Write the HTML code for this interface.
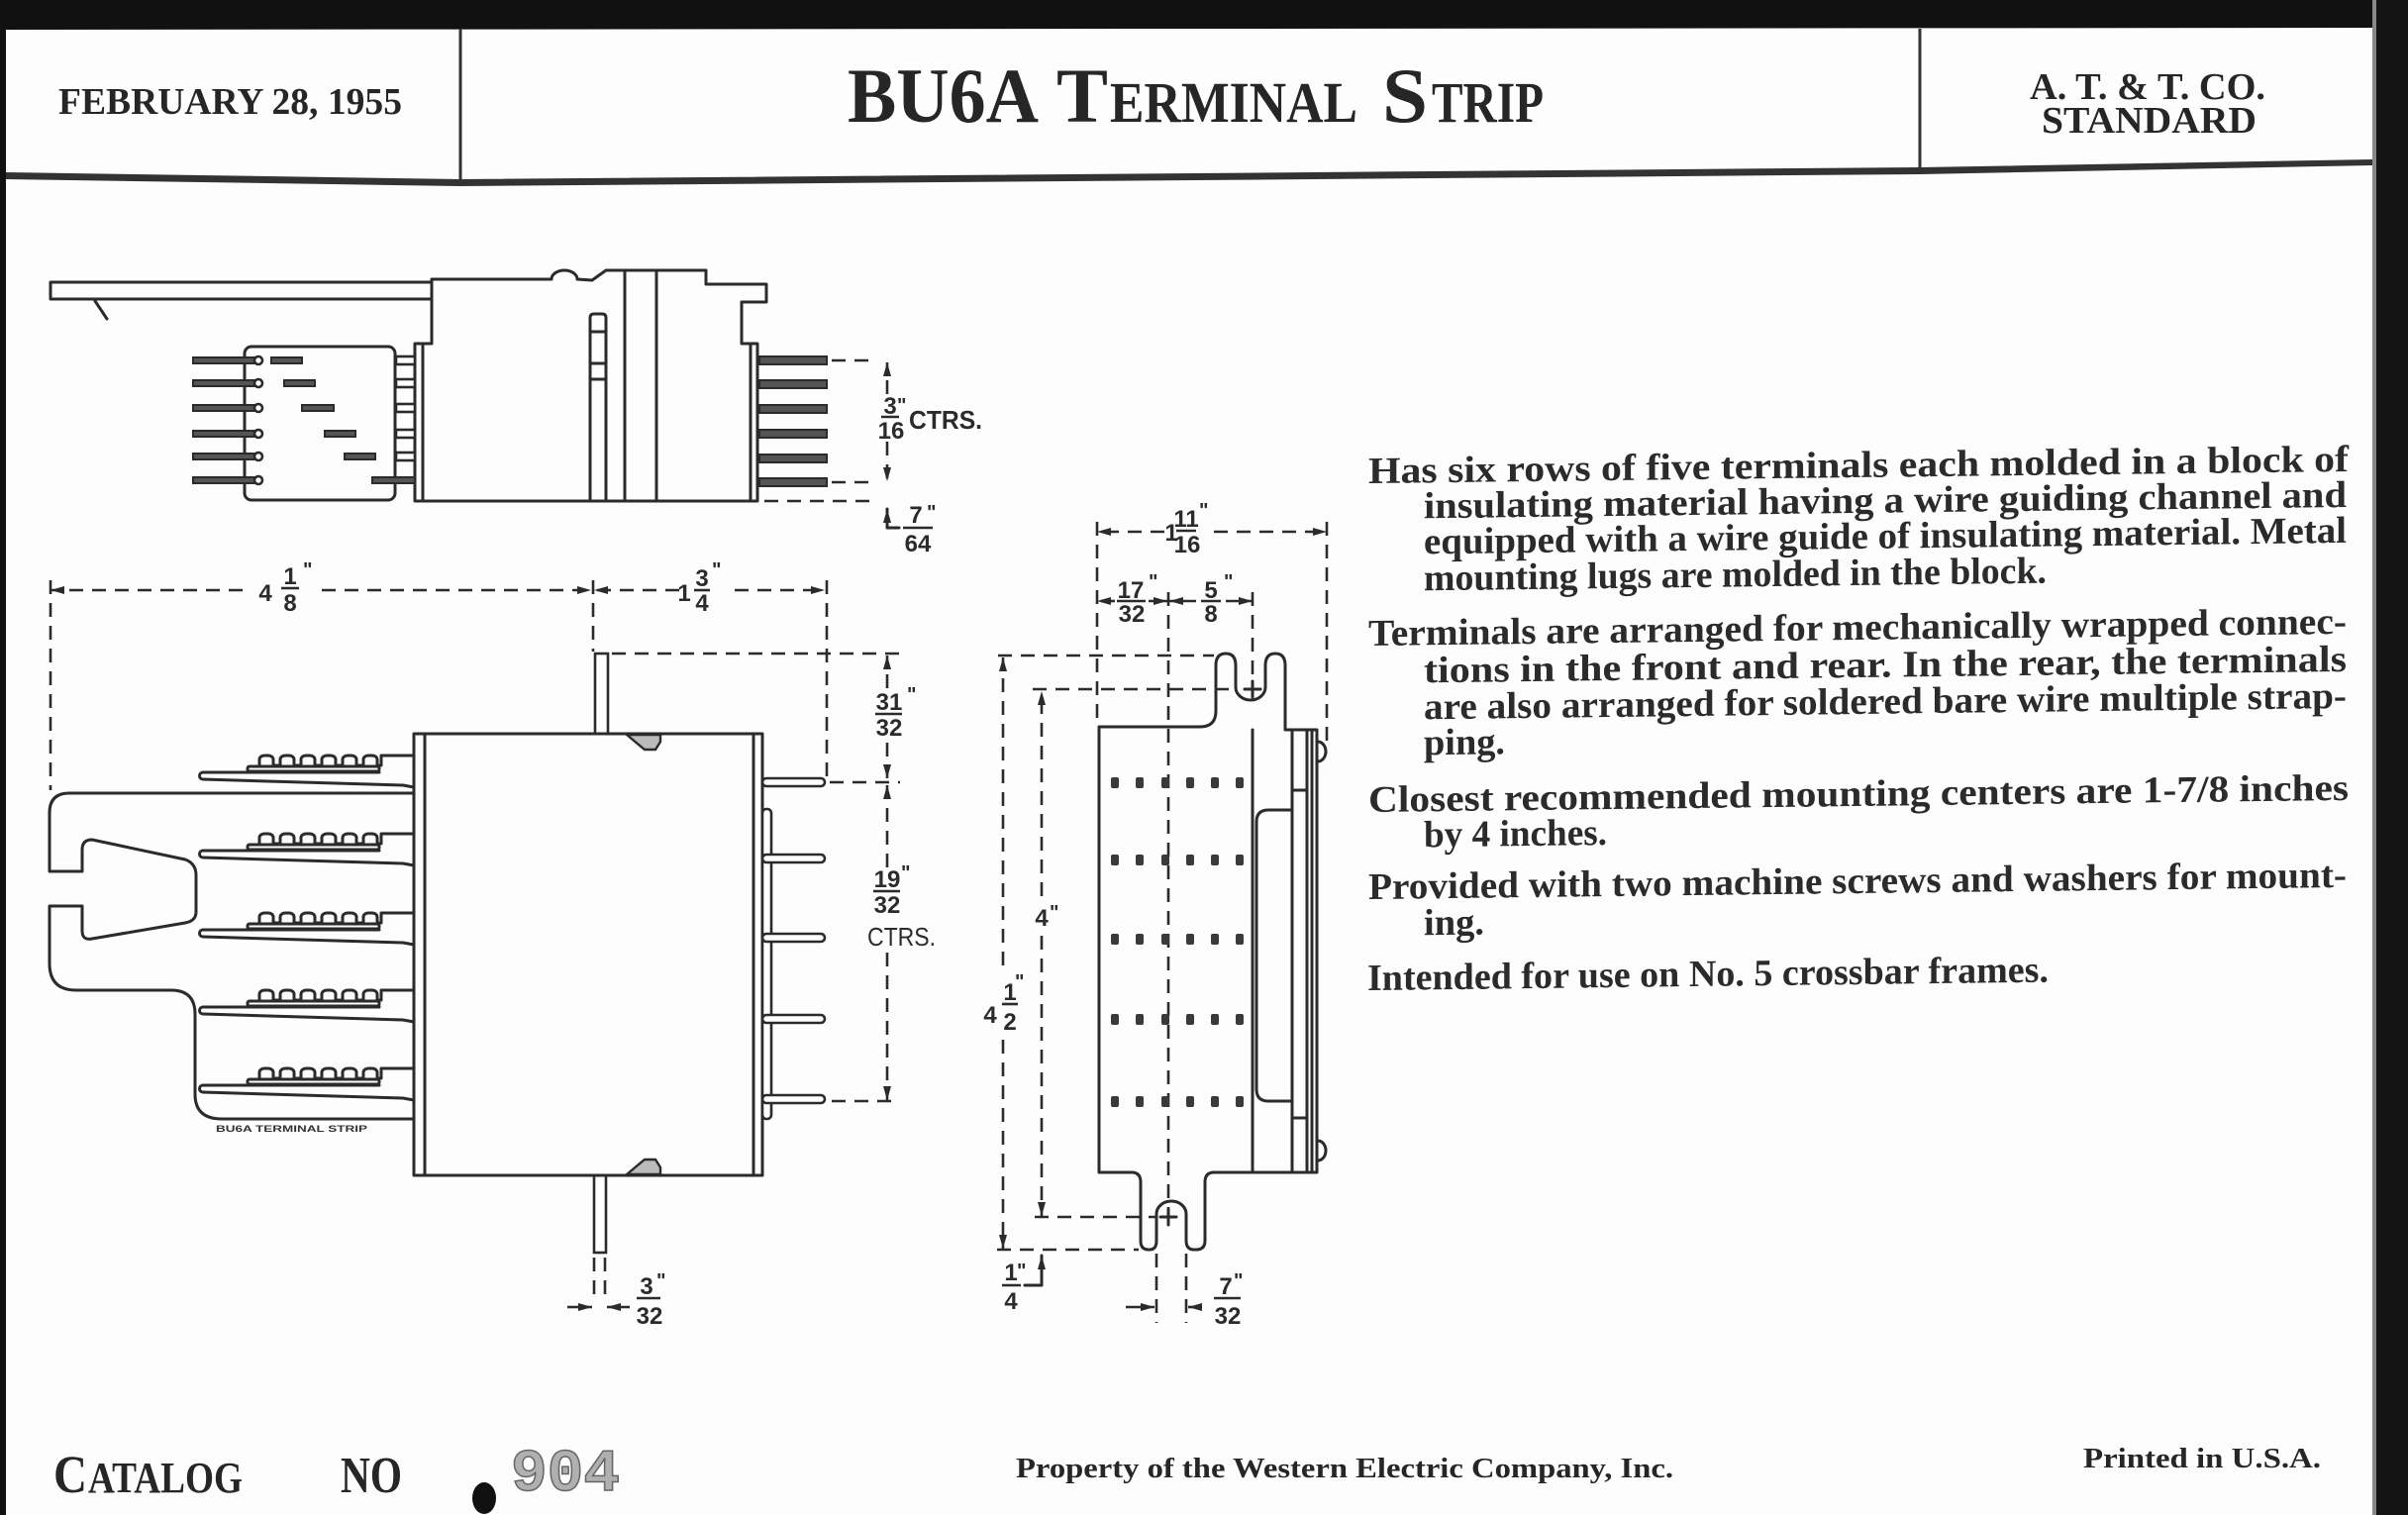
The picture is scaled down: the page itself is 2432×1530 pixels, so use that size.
<!DOCTYPE html>
<html><head><meta charset="utf-8"><style>
html,body{margin:0;padding:0;background:#fff;}
svg{display:block;}
.s{fill:none;stroke:#2b2b2b;stroke-width:3;stroke-linejoin:round;stroke-linecap:round}
.w{fill:#fff;stroke:#2b2b2b;stroke-width:2.6}
.k{fill:#555;stroke:#2b2b2b;stroke-width:2}
.d{fill:none;stroke:#2b2b2b;stroke-width:2.6;stroke-dasharray:14 9}
.dm{fill:none;stroke:#2b2b2b;stroke-width:2.6;stroke-dasharray:14 9}
.b{stroke:#2b2b2b;stroke-width:2.6}
.t{font-family:"Liberation Sans",sans-serif;font-size:24px;fill:#2b2b2b;text-anchor:middle;font-weight:bold}
.q{font-family:"Liberation Sans",sans-serif;font-size:20px;fill:#2b2b2b;font-weight:bold}
.sf{font-family:"Liberation Serif",serif;font-weight:bold;fill:#262626}
.p{font-family:"Liberation Serif",serif;font-weight:bold;font-size:38px;fill:#2b2b2b}
</style></head><body>
<svg width="2432" height="1530" viewBox="0 0 2432 1530" xmlns="http://www.w3.org/2000/svg">
<defs>
<marker id="a" viewBox="0 0 14 8" refX="14" refY="4" markerWidth="14" markerHeight="8" orient="auto-start-reverse" markerUnits="userSpaceOnUse"><path d="M0,0 L14,4 L0,8 z" fill="#2b2b2b"/></marker>
</defs>
<rect width="2432" height="1530" fill="#fdfdfd"/>
<!-- scan frame -->
<polygon points="0,0 2432,0 2432,28 0,30" fill="#111"/>
<rect x="0" y="0" width="6" height="1530" fill="#111"/>
<rect x="2396" y="0" width="6" height="1530" fill="#888"/>
<rect x="2400" y="0" width="32" height="1530" fill="#141414"/>

<!-- header -->
<polygon points="6,174 465,181 1939,169 2396,161 2396,167 1939,176 465,188 6,181" fill="#333"/>
<line x1="465" y1="29" x2="465" y2="184" stroke="#333" stroke-width="3"/>
<line x1="1939" y1="29" x2="1939" y2="173" stroke="#333" stroke-width="3"/>
<text class="sf" x="59" y="115" font-size="38" textLength="347" lengthAdjust="spacingAndGlyphs">FEBRUARY 28, 1955</text>
<text class="sf" x="856" y="123" font-size="78" textLength="193" lengthAdjust="spacingAndGlyphs">BU6A</text>
<text class="sf" x="1067" y="123" font-size="78" textLength="52" lengthAdjust="spacingAndGlyphs">T</text>
<text class="sf" x="1121" y="123" font-size="58" textLength="250" lengthAdjust="spacingAndGlyphs">ERMINAL</text>
<text class="sf" x="1396" y="123" font-size="78" textLength="46" lengthAdjust="spacingAndGlyphs">S</text>
<text class="sf" x="1446" y="123" font-size="58" textLength="113" lengthAdjust="spacingAndGlyphs">TRIP</text>
<text class="sf" x="2050" y="100" font-size="38" textLength="238" lengthAdjust="spacingAndGlyphs">A. T. &amp; T. CO.</text>
<text class="sf" x="2062" y="134" font-size="38" textLength="217" lengthAdjust="spacingAndGlyphs">STANDARD</text>

<!-- ===== TOP ELEVATION VIEW ===== -->
<path class="s" d="M436,285 H51 V302 H436"/>
<path class="s" d="M96,304 L108,322"/>
<path class="s" d="M436,282 H557 A13,9 0 0 1 583,282 L598,283 L612,273 H713 V287 H774 V305 H749 V347 H765 V506 H419 V347 H436 Z"/>
<path class="s" d="M427,347 V506 M758,347 V506 M631,273 V506 M663,273 V506"/>
<path class="s" d="M596,506 V321 Q596,317 600,317 H608 Q612,317 612,321 V506 M596,335 H612 M596,367 H612 M596,383 H612"/>
<rect class="s" x="247" y="350" width="152" height="155" rx="7"/>
<g>
<rect class="k" x="195" y="361" width="64" height="6"/><circle class="w" cx="261" cy="364" r="4"/>
<rect class="k" x="195" y="384" width="64" height="6"/><circle class="w" cx="261" cy="387" r="4"/>
<rect class="k" x="195" y="409" width="64" height="6"/><circle class="w" cx="261" cy="412" r="4"/>
<rect class="k" x="195" y="435" width="64" height="6"/><circle class="w" cx="261" cy="438" r="4"/>
<rect class="k" x="195" y="458" width="64" height="6"/><circle class="w" cx="261" cy="461" r="4"/>
<rect class="k" x="195" y="482" width="64" height="6"/><circle class="w" cx="261" cy="485" r="4"/>
<rect class="k" x="274" y="361" width="31" height="6"/>
<rect class="k" x="287" y="384" width="31" height="6"/>
<rect class="k" x="305" y="409" width="32" height="6"/>
<rect class="k" x="328" y="435" width="31" height="6"/>
<rect class="k" x="348" y="458" width="31" height="6"/>
<rect class="k" x="376" y="482" width="43" height="6"/>
<rect class="w" x="400" y="360" width="19" height="8"/>
<rect class="w" x="400" y="383" width="19" height="8"/>
<rect class="w" x="400" y="408" width="19" height="8"/>
<rect class="w" x="400" y="434" width="19" height="8"/>
<rect class="w" x="400" y="457" width="19" height="8"/>
<rect class="k" x="767" y="360" width="68" height="8"/>
<rect class="k" x="767" y="384" width="68" height="8"/>
<rect class="k" x="767" y="409" width="68" height="8"/>
<rect class="k" x="767" y="434" width="68" height="8"/>
<rect class="k" x="767" y="459" width="68" height="8"/>
<rect class="k" x="767" y="483" width="68" height="8"/>
</g>
<!-- dims top view -->
<path class="d" d="M840,364 H886 M840,487 H886 M772,506 H886"/>
<line class="dm" x1="896" y1="398" x2="896" y2="366" marker-end="url(#a)"/>
<line class="dm" x1="896" y1="446" x2="896" y2="486" marker-end="url(#a)"/>
<text class="t" x="899" y="418">3</text><line class="b" x1="890" y1="421" x2="908" y2="421"/><text class="t" x="900" y="443">16</text>
<text class="q" x="906" y="416">"</text>
<text x="918" y="433" font-family="Liberation Sans,sans-serif" font-size="26" font-weight="bold" fill="#2b2b2b" textLength="74" lengthAdjust="spacingAndGlyphs">CTRS.</text>
<path class="s" d="M908,533 H896 V514" stroke-width="2.6" marker-end="url(#a)"/>
<text class="t" x="925" y="528">7</text><line class="b" x1="912" y1="533" x2="942" y2="533"/><text class="t" x="927" y="557">64</text>
<text class="q" x="936" y="524">"</text>

<!-- ===== PLAN VIEW ===== -->
<line class="dm" x1="245" y1="596" x2="51" y2="596" marker-end="url(#a)"/>
<line class="dm" x1="325" y1="596" x2="597" y2="596" marker-end="url(#a)"/>
<line class="dm" x1="686" y1="596" x2="600" y2="596" marker-end="url(#a)"/>
<line class="dm" x1="742" y1="596" x2="833" y2="596" marker-end="url(#a)"/>
<path class="d" d="M51,586 V798 M599,586 V658 M835,586 V787 M618,660 H909 M838,790 H909 M840,1112 H909"/>
<text class="t" x="268" y="607">4</text>
<text class="t" x="293" y="590">1</text><line class="b" x1="284" y1="594" x2="302" y2="594"/><text class="t" x="293" y="617">8</text>
<text class="q" x="306" y="582">"</text>
<text class="t" x="691" y="607">1</text>
<text class="t" x="709" y="592">3</text><line class="b" x1="701" y1="596" x2="717" y2="596"/><text class="t" x="709" y="617">4</text>
<text class="q" x="719" y="582">"</text>

<line class="dm" x1="896" y1="695" x2="896" y2="662" marker-end="url(#a)"/>
<line class="dm" x1="896" y1="750" x2="896" y2="786" marker-end="url(#a)"/>
<text class="t" x="898" y="717">31</text><line class="b" x1="884" y1="721" x2="911" y2="721"/><text class="t" x="898" y="743">32</text>
<text class="q" x="916" y="708">"</text>
<line class="dm" x1="896" y1="876" x2="896" y2="793" marker-end="url(#a)"/>
<line class="dm" x1="896" y1="962" x2="896" y2="1111" marker-end="url(#a)"/>
<text class="t" x="896" y="896">19</text><line class="b" x1="882" y1="900" x2="909" y2="900"/><text class="t" x="896" y="922">32</text>
<text class="q" x="910" y="888">"</text>
<text x="876" y="955" font-family="Liberation Sans,sans-serif" font-size="26" fill="#2b2b2b" textLength="69" lengthAdjust="spacingAndGlyphs">CTRS.</text>

<!-- body -->
<rect class="w" x="601" y="660" width="13" height="81"/>
<rect class="w" x="600" y="1187" width="12" height="78"/>
<rect class="s" x="418" y="741" width="352" height="446"/>
<path class="s" d="M429,741 V1187 M761,741 V1187"/>
<path d="M633,742 L651,757 L662,757 L667,749 V742 Z" fill="#bbb" stroke="#2b2b2b" stroke-width="2.4"/>
<path d="M633,1186 L651,1171 L662,1171 L667,1179 V1186 Z" fill="#bbb" stroke="#2b2b2b" stroke-width="2.4"/>
<rect class="w" x="770" y="817" width="9" height="313" rx="4"/>
<rect class="w" x="770" y="786" width="63" height="8" rx="4"/>
<rect class="w" x="770" y="863" width="63" height="8" rx="4"/>
<rect class="w" x="770" y="943" width="63" height="8" rx="4"/>
<rect class="w" x="770" y="1025" width="63" height="8" rx="4"/>
<rect class="w" x="770" y="1106" width="63" height="8" rx="4"/>

<!-- hook -->
<path class="s" d="M418,801 H70 Q50,801 50,821 V880 H83 V858 Q83,848 93,848 L187,868 Q198,872 198,884 V921 Q198,930 187,932 L93,948 Q83,950 83,940 V915 H50 V973 Q50,1000 77,1000 H173 Q197,1000 197,1024 V1105 Q197,1130 224,1130 H418"/>

<!-- combs -->
<g class="s" stroke-width="2.4">
<path d="M418,795 L407,793 L205,787 A3.5,3.5 0 0 1 205,780 H383"/>
<rect x="250" y="774" width="133" height="5" rx="2"/>
<path d="M255,774 H262 v-7 a5,4 0 0 1 5,-4 h4 a5,4 0 0 1 5,4 v6 h7 v-6 a5,4 0 0 1 5,-4 h4 a5,4 0 0 1 5,4 v6 h7 v-6 a5,4 0 0 1 5,-4 h4 a5,4 0 0 1 5,4 v6 h7 v-6 a5,4 0 0 1 5,-4 h4 a5,4 0 0 1 5,4 v6 h7 v-6 a5,4 0 0 1 5,-4 h4 a5,4 0 0 1 5,4 v6 h7 v-6 a5,4 0 0 1 5,-4 h4 a5,4 0 0 1 5,4 v6 h4 v-10 H418"/>

<path d="M418,874 L407,872 L205,866 A3.5,3.5 0 0 1 205,859 H383"/>
<rect x="250" y="853" width="133" height="5" rx="2"/>
<path d="M255,853 H262 v-7 a5,4 0 0 1 5,-4 h4 a5,4 0 0 1 5,4 v6 h7 v-6 a5,4 0 0 1 5,-4 h4 a5,4 0 0 1 5,4 v6 h7 v-6 a5,4 0 0 1 5,-4 h4 a5,4 0 0 1 5,4 v6 h7 v-6 a5,4 0 0 1 5,-4 h4 a5,4 0 0 1 5,4 v6 h7 v-6 a5,4 0 0 1 5,-4 h4 a5,4 0 0 1 5,4 v6 h7 v-6 a5,4 0 0 1 5,-4 h4 a5,4 0 0 1 5,4 v6 h4 v-10 H418"/>

<path d="M418,954 L407,952 L205,946 A3.5,3.5 0 0 1 205,939 H383"/>
<rect x="250" y="933" width="133" height="5" rx="2"/>
<path d="M255,933 H262 v-7 a5,4 0 0 1 5,-4 h4 a5,4 0 0 1 5,4 v6 h7 v-6 a5,4 0 0 1 5,-4 h4 a5,4 0 0 1 5,4 v6 h7 v-6 a5,4 0 0 1 5,-4 h4 a5,4 0 0 1 5,4 v6 h7 v-6 a5,4 0 0 1 5,-4 h4 a5,4 0 0 1 5,4 v6 h7 v-6 a5,4 0 0 1 5,-4 h4 a5,4 0 0 1 5,4 v6 h7 v-6 a5,4 0 0 1 5,-4 h4 a5,4 0 0 1 5,4 v6 h4 v-10 H418"/>

<path d="M418,1032 L407,1030 L205,1024 A3.5,3.5 0 0 1 205,1017 H383"/>
<rect x="250" y="1011" width="133" height="5" rx="2"/>
<path d="M255,1011 H262 v-7 a5,4 0 0 1 5,-4 h4 a5,4 0 0 1 5,4 v6 h7 v-6 a5,4 0 0 1 5,-4 h4 a5,4 0 0 1 5,4 v6 h7 v-6 a5,4 0 0 1 5,-4 h4 a5,4 0 0 1 5,4 v6 h7 v-6 a5,4 0 0 1 5,-4 h4 a5,4 0 0 1 5,4 v6 h7 v-6 a5,4 0 0 1 5,-4 h4 a5,4 0 0 1 5,4 v6 h7 v-6 a5,4 0 0 1 5,-4 h4 a5,4 0 0 1 5,4 v6 h4 v-10 H418"/>

<path d="M418,1111 L407,1109 L205,1103 A3.5,3.5 0 0 1 205,1096 H383"/>
<rect x="250" y="1090" width="133" height="5" rx="2"/>
<path d="M255,1090 H262 v-7 a5,4 0 0 1 5,-4 h4 a5,4 0 0 1 5,4 v6 h7 v-6 a5,4 0 0 1 5,-4 h4 a5,4 0 0 1 5,4 v6 h7 v-6 a5,4 0 0 1 5,-4 h4 a5,4 0 0 1 5,4 v6 h7 v-6 a5,4 0 0 1 5,-4 h4 a5,4 0 0 1 5,4 v6 h7 v-6 a5,4 0 0 1 5,-4 h4 a5,4 0 0 1 5,4 v6 h7 v-6 a5,4 0 0 1 5,-4 h4 a5,4 0 0 1 5,4 v6 h4 v-10 H418"/>
</g>
<text x="218" y="1143" font-family="Liberation Sans,sans-serif" font-size="9" font-weight="bold" fill="#333" textLength="153" lengthAdjust="spacingAndGlyphs">BU6A TERMINAL STRIP</text>

<!-- bottom dim plan -->
<path class="d" d="M600,1270 V1314 M611,1270 V1314"/>
<line class="b" x1="573" y1="1320" x2="598" y2="1320" marker-end="url(#a)"/>
<line class="b" x1="636" y1="1320" x2="613" y2="1320" marker-end="url(#a)"/>
<text class="t" x="653" y="1307">3</text><line class="b" x1="643" y1="1311" x2="667" y2="1311"/><text class="t" x="656" y="1337">32</text>
<text class="q" x="663" y="1300">"</text>

<!-- ===== SIDE VIEW ===== -->
<line class="dm" x1="1176" y1="537" x2="1108" y2="537" marker-end="url(#a)"/>
<line class="dm" x1="1226" y1="537" x2="1340" y2="537" marker-end="url(#a)"/>
<text class="t" x="1183" y="546">1</text>
<text class="t" x="1198" y="532">11</text><line class="b" x1="1188" y1="536" x2="1208" y2="536"/><text class="t" x="1199" y="558">16</text>
<text class="q" x="1211" y="522">"</text>
<path class="d" d="M1108,527 V734 M1340,527 V751"/>
<line class="dm" x1="1126" y1="607" x2="1108" y2="607" marker-end="url(#a)"/>
<text class="t" x="1142" y="604">17</text><line class="b" x1="1128" y1="607" x2="1157" y2="607"/><text class="t" x="1143" y="628">32</text>
<text class="q" x="1160" y="594">"</text>
<line class="b" x1="1160" y1="607" x2="1179" y2="607" marker-end="url(#a)"/>
<line class="b" x1="1208" y1="607" x2="1181" y2="607" marker-end="url(#a)"/>
<text class="t" x="1223" y="604">5</text><line class="b" x1="1213" y1="607" x2="1233" y2="607"/><text class="t" x="1223" y="628">8</text>
<text class="q" x="1236" y="594">"</text>
<line class="dm" x1="1238" y1="607" x2="1265" y2="607" marker-end="url(#a)"/>
<path class="d" d="M1265,598 V690 M1180,598 V1242"/>
<path class="d" d="M1008,662 H1226 M1043,696 H1250 M1045,1229 H1168 M1007,1262 H1150"/>
<!-- vertical dims -->
<line class="dm" x1="1013" y1="975" x2="1013" y2="664" marker-end="url(#a)"/>
<line class="dm" x1="1013" y1="1050" x2="1013" y2="1261" marker-end="url(#a)"/>
<text class="t" x="1000" y="1033">4</text>
<text class="t" x="1020" y="1010">1</text><line class="b" x1="1012" y1="1014" x2="1028" y2="1014"/><text class="t" x="1020" y="1040">2</text>
<text class="q" x="1025" y="998">"</text>
<line class="dm" x1="1052" y1="905" x2="1052" y2="698" marker-end="url(#a)"/>
<line class="dm" x1="1052" y1="945" x2="1052" y2="1228" marker-end="url(#a)"/>
<text class="t" x="1052" y="935">4</text>
<text class="q" x="1060" y="928">"</text>
<path class="s" stroke-width="2.6" d="M1035,1298 H1052 V1268" marker-end="url(#a)"/>
<text class="t" x="1021" y="1293">1</text><line class="b" x1="1012" y1="1298" x2="1031" y2="1298"/><text class="t" x="1021" y="1322">4</text>
<text class="q" x="1027" y="1290">"</text>
<path class="d" d="M1168,1266 V1336 M1198,1266 V1336"/>
<line class="b" x1="1137" y1="1320" x2="1166" y2="1320" marker-end="url(#a)"/>
<line class="b" x1="1214" y1="1320" x2="1200" y2="1320" marker-end="url(#a)"/>
<text class="t" x="1238" y="1307">7</text><line class="b" x1="1226" y1="1311" x2="1253" y2="1311"/><text class="t" x="1240" y="1337">32</text>
<text class="q" x="1246" y="1300">"</text>

<!-- side body -->
<path class="s" d="M1110,1184 V734 H1212 Q1228,734 1228,718 V672 Q1228,660 1238,660 Q1248,660 1248,672 V694 A15,13 0 0 0 1278,694 V672 Q1278,660 1288,660 Q1298,660 1298,672 V737 H1330 V1184 H1226 Q1217,1184 1217,1194 V1253 Q1217,1262 1208,1262 H1206 Q1198,1262 1198,1253 V1226 A15,13 0 0 0 1168,1226 V1253 Q1168,1262 1161,1262 H1160 Q1152,1262 1152,1253 V1194 Q1152,1184 1143,1184 Z"/>
<path class="s" d="M1265,737 V1184 M1305,737 V1184 M1320,737 V1184 M1325,737 V1184"/>
<path class="s" d="M1305,818 H1281 Q1269,818 1269,830 V1100 Q1269,1112 1281,1112 H1305 M1305,798 H1320 M1305,1129 H1320"/>
<path class="s" d="M1331,749 A8,10 0 0 1 1331,769 M1331,1152 A8,10 0 0 1 1331,1172"/>
<path class="s" stroke-width="2" d="M1257,696 H1273 M1265,688 V704 M1172,1229 H1188 M1180,1221 V1237"/>
<g fill="#3a3a3a">
<rect x="1122" y="785" width="8" height="11" rx="2"/><rect x="1147" y="785" width="8" height="11" rx="2"/><rect x="1173" y="785" width="8" height="11" rx="2"/><rect x="1198" y="785" width="8" height="11" rx="2"/><rect x="1223" y="785" width="8" height="11" rx="2"/><rect x="1248" y="785" width="8" height="11" rx="2"/>
<rect x="1122" y="863" width="8" height="11" rx="2"/><rect x="1147" y="863" width="8" height="11" rx="2"/><rect x="1173" y="863" width="8" height="11" rx="2"/><rect x="1198" y="863" width="8" height="11" rx="2"/><rect x="1223" y="863" width="8" height="11" rx="2"/><rect x="1248" y="863" width="8" height="11" rx="2"/>
<rect x="1122" y="943" width="8" height="11" rx="2"/><rect x="1147" y="943" width="8" height="11" rx="2"/><rect x="1173" y="943" width="8" height="11" rx="2"/><rect x="1198" y="943" width="8" height="11" rx="2"/><rect x="1223" y="943" width="8" height="11" rx="2"/><rect x="1248" y="943" width="8" height="11" rx="2"/>
<rect x="1122" y="1024" width="8" height="11" rx="2"/><rect x="1147" y="1024" width="8" height="11" rx="2"/><rect x="1173" y="1024" width="8" height="11" rx="2"/><rect x="1198" y="1024" width="8" height="11" rx="2"/><rect x="1223" y="1024" width="8" height="11" rx="2"/><rect x="1248" y="1024" width="8" height="11" rx="2"/>
<rect x="1122" y="1107" width="8" height="11" rx="2"/><rect x="1147" y="1107" width="8" height="11" rx="2"/><rect x="1173" y="1107" width="8" height="11" rx="2"/><rect x="1198" y="1107" width="8" height="11" rx="2"/><rect x="1223" y="1107" width="8" height="11" rx="2"/><rect x="1248" y="1107" width="8" height="11" rx="2"/>
</g>

<!-- ===== DESCRIPTION ===== -->
<g transform="translate(1382,0) skewY(-0.7) translate(-1382,0)">
<text class="p" x="1382" y="488" textLength="990" lengthAdjust="spacingAndGlyphs">Has six rows of five terminals each molded in a block of</text>
<text class="p" x="1438" y="524" textLength="932" lengthAdjust="spacingAndGlyphs">insulating material having a wire guiding channel and</text>
<text class="p" x="1438" y="560" textLength="932" lengthAdjust="spacingAndGlyphs">equipped with a wire guide of insulating material. Metal</text>
<text class="p" x="1438" y="597" textLength="629" lengthAdjust="spacingAndGlyphs">mounting lugs are molded in the block.</text>
<text class="p" x="1382" y="652" textLength="988" lengthAdjust="spacingAndGlyphs">Terminals are arranged for mechanically wrapped connec-</text>
<text class="p" x="1438" y="690" textLength="932" lengthAdjust="spacingAndGlyphs">tions in the front and rear.  In the rear, the terminals</text>
<text class="p" x="1438" y="727" textLength="932" lengthAdjust="spacingAndGlyphs">are also arranged for soldered bare wire multiple strap-</text>
<text class="p" x="1438" y="763" textLength="82" lengthAdjust="spacingAndGlyphs">ping.</text>
<text class="p" x="1382" y="820" textLength="990" lengthAdjust="spacingAndGlyphs">Closest recommended mounting centers are 1-7/8 inches</text>
<text class="p" x="1438" y="856" textLength="185" lengthAdjust="spacingAndGlyphs">by 4 inches.</text>
<text class="p" x="1382" y="908" textLength="988" lengthAdjust="spacingAndGlyphs">Provided with two machine screws and washers for mount-</text>
<text class="p" x="1438" y="945" textLength="61" lengthAdjust="spacingAndGlyphs">ing.</text>
<text class="p" x="1381" y="1000" textLength="688" lengthAdjust="spacingAndGlyphs">Intended for use on No. 5 crossbar frames.</text>
</g>

<!-- ===== FOOTER ===== -->
<text class="sf" x="54" y="1507" font-size="54" textLength="34" lengthAdjust="spacingAndGlyphs">C</text>
<text class="sf" x="89" y="1507" font-size="44" textLength="156" lengthAdjust="spacingAndGlyphs">ATALOG</text>
<text class="sf" x="344" y="1507" font-size="52" textLength="62" lengthAdjust="spacingAndGlyphs">NO</text>
<ellipse cx="489" cy="1513" rx="12" ry="16" fill="#111"/>
<text x="516" y="1505" font-family="Liberation Mono,monospace" font-weight="bold" font-size="60" fill="#b0b0b0" stroke="#666" stroke-width="1.5" textLength="110" lengthAdjust="spacingAndGlyphs">904</text>
<text class="sf" x="1026" y="1492" font-size="28" textLength="664" lengthAdjust="spacingAndGlyphs">Property of the Western Electric Company, Inc.</text>
<text class="sf" x="2104" y="1482" font-size="28" textLength="240" lengthAdjust="spacingAndGlyphs">Printed in U.S.A.</text>
</svg>
</body></html>
